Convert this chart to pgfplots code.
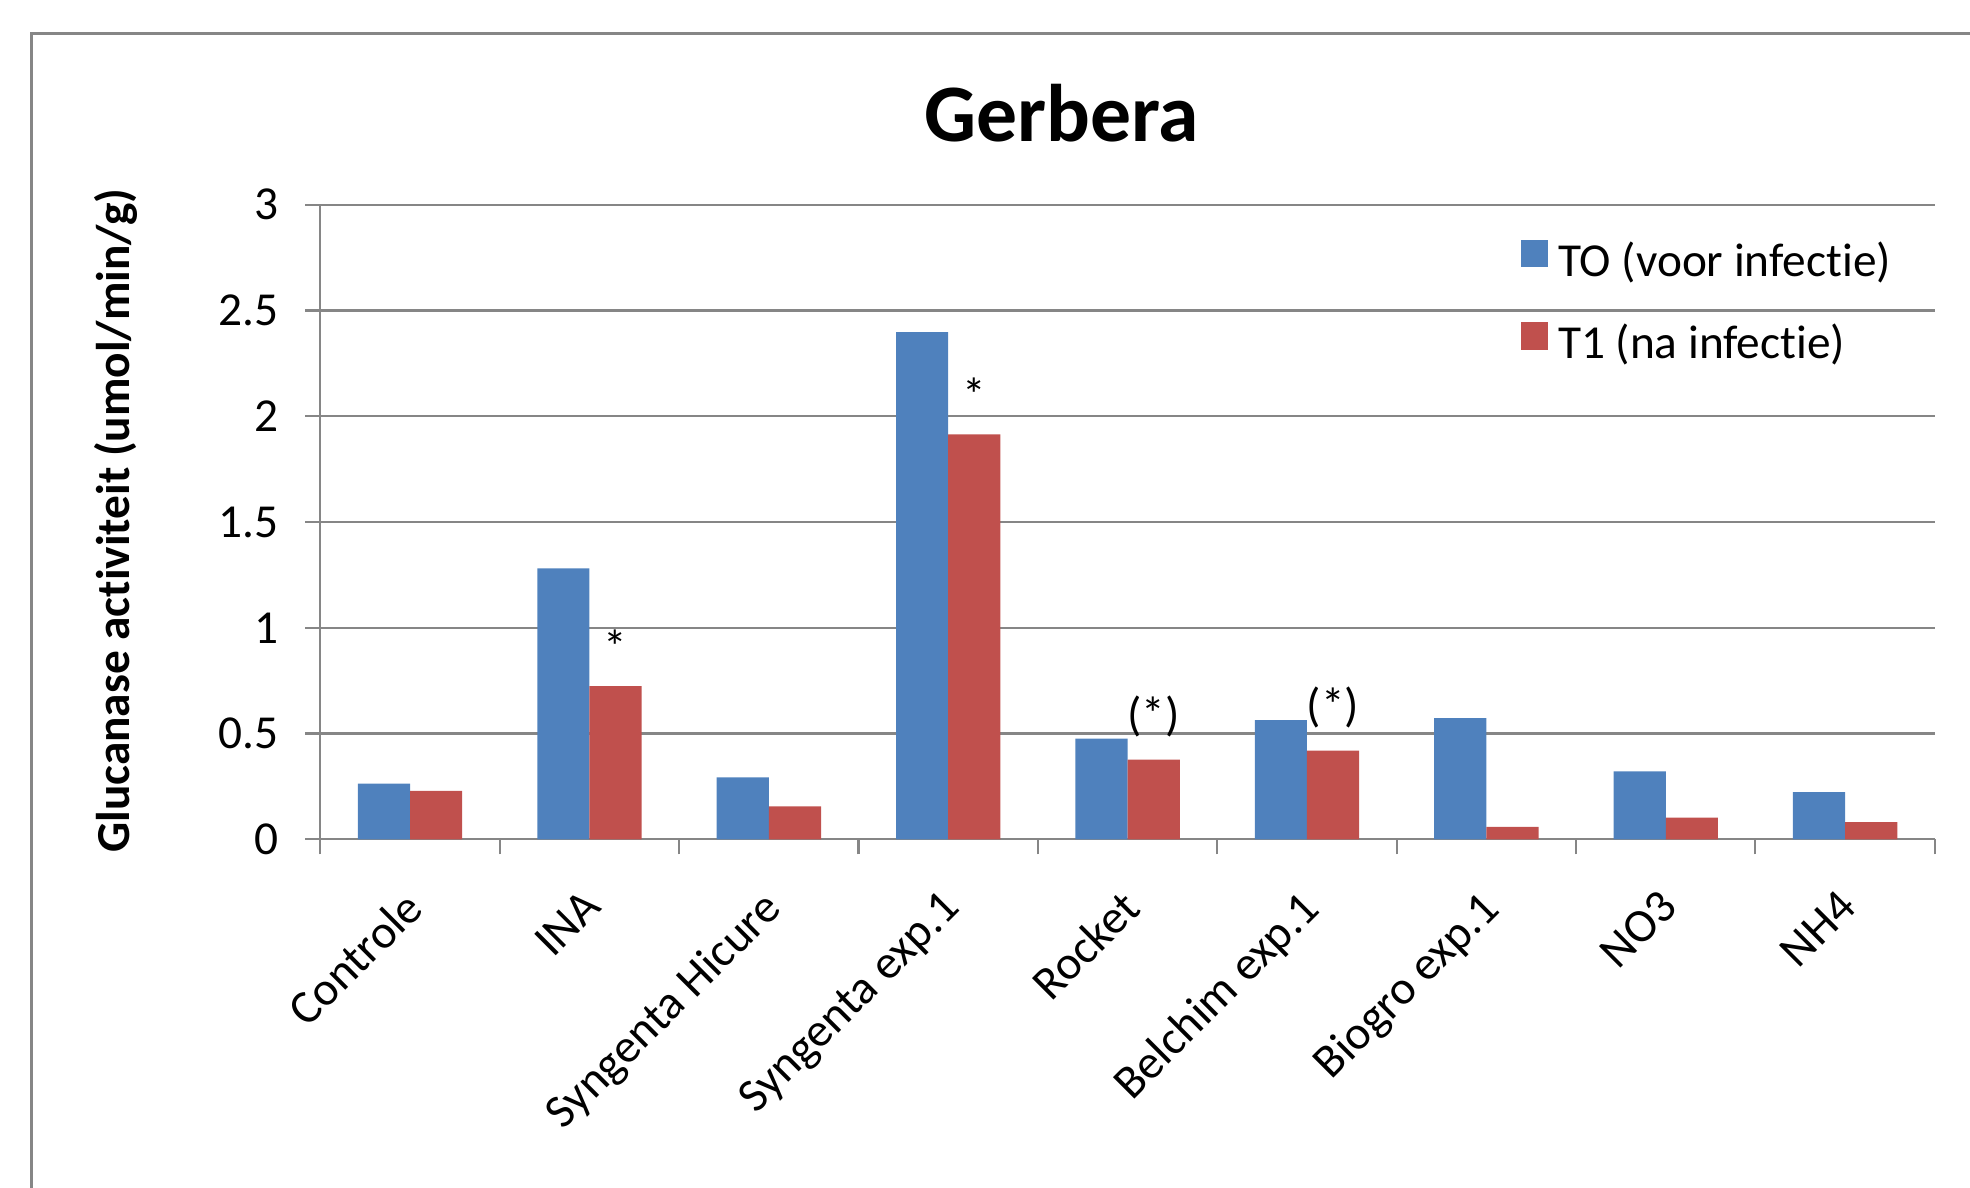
\documentclass[border=0pt]{standalone}
\usepackage{fontspec}
\setmainfont{Carlito}[Ligatures=NoCommon]
\usepackage{pgfplots}
\pgfplotsset{compat=1.18}

\definecolor{barblue}{RGB}{79,129,189}
\definecolor{barred}{RGB}{192,80,77}
\definecolor{gridgray}{RGB}{134,134,134}
\newcommand{\lbl}{\fontsize{11.3}{13.6}\selectfont}

\begin{document}
\begin{tikzpicture}
\begin{axis}[
  at={(0pt,0pt)}, anchor=south west,
  scale only axis,
  width=385.5pt, height=151.5pt,
  xmin=-0.5, xmax=8.5,
  ymin=0, ymax=3,
  ytick={0,0.5,1,1.5,2,2.5,3},
  xtick={0,1,2,3,4,5,6,7,8},
  xticklabels={Controle, INA, Syngenta Hicure, Syngenta exp.1, Rocket,
               Belchim exp.1, Biogro exp.1, NO3, NH4},
  minor xtick={-0.5,0.5,1.5,2.5,3.5,4.5,5.5,6.5,7.5,8.5},
  major x tick style={draw=none},
  tick align=outside,
  major tick length=3.6pt, minor tick length=3.6pt,
  tick style={draw=gridgray, line width=0.5pt},
  axis x line*=bottom, axis y line*=left,
  axis line style={-, draw=gridgray, line width=0.5pt},
  ymajorgrids,
  major grid style={draw=gridgray, line width=0.5pt},
  ybar=0pt, bar width=12.46pt,
  /pgf/number format/assume math mode=true,
  yticklabel style={font=\lbl, inner sep=0pt, anchor=east},
  yticklabel shift=6.2pt,
  xticklabel style={font=\lbl, rotate=45, anchor=north east, inner sep=0pt, xshift=-2.8pt},
  xticklabel shift=5.8pt,
  title={Gerbera},
  every axis title/.style={at={(axis description cs:0.4591,1)}, yshift=22pt,
    anchor=center, font=\fontsize{19.5}{23}\selectfont\bfseries},
  ylabel={Glucanase activiteit (umol/min/g)},
  every axis y label/.style={at={(axis description cs:0,0.502)}, xshift=-48.9pt,
    anchor=center, rotate=90, font=\lbl\bfseries},
  legend style={draw=none, fill=none, at={(axis description cs:0.743,0.946)},
    anchor=north west, inner sep=0pt, font=\lbl, row sep=8pt,
    nodes={inner sep=0pt, text height=8pt, text depth=3pt}},
  legend cell align=left,
  legend image code/.code={\fill[#1] (0pt,-0.3pt) rectangle (6.5pt,6.2pt);},
]
\addplot[fill=barblue, draw=none] coordinates {
  (0,0.263) (1,1.281) (2,0.293) (3,2.398) (4,0.476)
  (5,0.563) (6,0.573) (7,0.321) (8,0.223)};
\addlegendentry{\hspace{2.4pt}TO (voor infectie)}
% significance marks above the T1 bars
\addplot[fill=barred, draw=none,
  nodes near coords, point meta=explicit symbolic,
  every node near coord/.append style={font=\lbl, anchor=south, inner sep=0pt,
    yshift=5.2pt, text=black}]
  coordinates {
  (0,0.229) (1,0.724) [*] (2,0.156) (3,1.915) [*] (4,0.376) [(*)]
  (5,0.419) [(*)] (6,0.058) (7,0.102) (8,0.081)};
\addlegendentry{\hspace{2.4pt}T1 (na infectie)}
\end{axis}
\pgfresetboundingbox
\useasboundingbox (-76.5pt,-83.1pt) rectangle (393.9pt,200.4pt);
\begin{scope}
  \clip (-76.5pt,-83.1pt) rectangle (393.9pt,200.4pt);
  \draw[gridgray, line width=0.7pt] (-69pt,-130pt) rectangle (440pt,192.3pt);
\end{scope}
\end{tikzpicture}
\end{document}
